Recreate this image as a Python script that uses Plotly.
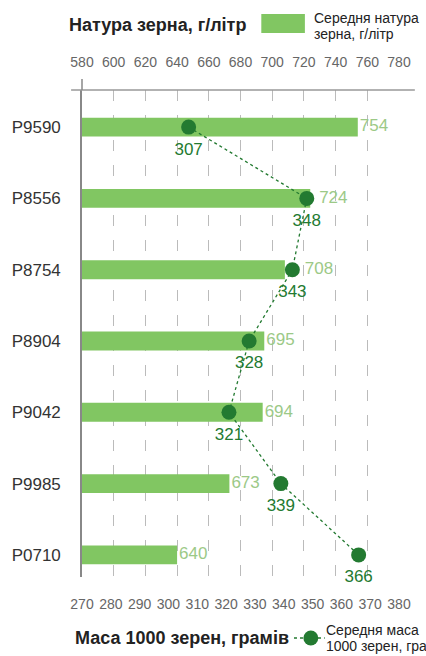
import plotly.graph_objects as go

categories = ["P9590", "P8556", "P8754", "P8904", "P9042", "P9985", "P0710"]
natura = [754, 724, 708, 695, 694, 673, 640]
masa = [307, 348, 343, 328, 321, 339, 366]
top_ticks = list(range(580, 781, 20))
bottom_ticks = list(range(270, 381, 10))

BAR = "#81c662"
BAR_TXT = "#9cc987"
DARK = "#237a31"
W, H = 426, 656
L, R, T, B = 79, 27, 90, 79
PW, PH = W - L - R, H - T - B
TOP_RANGE = [580, 780]
BOT_RANGE = [270, 380]
MARKER = 15

def px(x):
    return (x - L) / PW

def py(y):
    return (H - B - y) / PH

# bar value labels: placed after the bar end, or after the marker when the marker overlaps
top_per_px = (TOP_RANGE[1] - TOP_RANGE[0]) / PW
label_x = []
for v, m in zip(natura, masa):
    m_top = TOP_RANGE[0] + (m - BOT_RANGE[0]) / (BOT_RANGE[1] - BOT_RANGE[0]) * (TOP_RANGE[1] - TOP_RANGE[0])
    m_right = m_top + (MARKER / 2) * top_per_px
    m_left = m_top - (MARKER / 2) * top_per_px
    start = v + 2 * top_per_px
    if m_right > v and m_left < start + 30 * top_per_px:
        start = max(start, m_right + 5 * top_per_px)
    label_x.append(start)

fig = go.Figure()
fig.add_trace(go.Bar(
    y=categories, x=natura, orientation="h",
    marker=dict(color=BAR, line=dict(width=0)), width=0.265,
    xaxis="x", yaxis="y", showlegend=False, hoverinfo="x+y",
))
fig.add_trace(go.Scatter(
    y=categories, x=label_x, mode="text", text=[str(v) for v in natura],
    textposition="middle right", cliponaxis=False,
    textfont=dict(family="Liberation Sans, Arial", size=17, color=BAR_TXT),
    xaxis="x", yaxis="y", showlegend=False, hoverinfo="skip",
))
fig.add_trace(go.Scatter(
    y=categories, x=masa, mode="lines+markers",
    line=dict(color=DARK, width=1.3, dash="dot"),
    marker=dict(color=DARK, size=MARKER),
    xaxis="x2", yaxis="y", showlegend=False,
))
fig.add_trace(go.Scatter(
    y=categories, x=masa, mode="markers+text",
    marker=dict(color="rgba(0,0,0,0)", size=22),
    text=[str(v) for v in masa], textposition="bottom center", cliponaxis=False,
    textfont=dict(family="Liberation Sans, Arial", size=17, color=DARK),
    xaxis="x2", yaxis="y", showlegend=False, hoverinfo="skip",
))

tickfont = dict(family="Liberation Sans, Arial", size=14, color="#666")
fig.update_layout(
    width=W, height=H, margin=dict(l=L, r=R, t=T, b=B, pad=0),
    paper_bgcolor="white", plot_bgcolor="white",
    xaxis=dict(side="top", range=TOP_RANGE, tickvals=top_ticks, ticktext=[str(t) for t in top_ticks],
               showgrid=True, gridcolor="#bbb", gridwidth=1.3, griddash="11px,14px",
               zeroline=False, showline=False, ticks="", tickfont=tickfont,
               ticklabelstandoff=19, fixedrange=True),
    xaxis2=dict(side="bottom", overlaying="x", range=BOT_RANGE, tickvals=bottom_ticks,
                ticktext=[str(t) for t in bottom_ticks], showgrid=False, zeroline=False,
                showline=False, ticks="", tickfont=tickfont, ticklabelstandoff=17),
    yaxis=dict(type="category", categoryorder="array", categoryarray=categories,
               range=[6.31, -0.52], showgrid=False, zeroline=False,
               showline=True, linecolor="#888", linewidth=1.5, ticks="",
               tickfont=dict(family="Liberation Sans, Arial", size=17, color="#333"),
               ticklabelstandoff=16),
)

lab = dict(family="Liberation Sans, Arial", size=14, color="#222")
shapes = [
    dict(type="line", xref="paper", yref="paper", x0=px(68), x1=px(415), y0=1, y1=1,
         line=dict(color="#999", width=1.5)),
    dict(type="line", xref="paper", yref="paper", x0=0, x1=0, y0=1, y1=py(79),
         line=dict(color="#888", width=1.5)),
    dict(type="rect", xref="paper", yref="paper", x0=px(260), x1=px(304), y0=py(14), y1=py(33),
         fillcolor=BAR, line=dict(width=0)),
    dict(type="line", xref="paper", yref="paper", x0=px(293), x1=px(324), y0=py(638), y1=py(638),
         line=dict(color=DARK, width=1.3, dash="dot")),
    dict(type="circle", xref="paper", yref="paper", x0=px(302.5), x1=px(317.5), y0=py(630.5), y1=py(645.5),
         fillcolor=DARK, line=dict(width=0)),
]
annotations = [
    dict(text="<b>Натура зерна, г/літр</b>", xref="paper", yref="paper", x=px(64), y=py(25),
         xanchor="left", yanchor="middle", showarrow=False,
         font=dict(family="Liberation Sans, Arial", size=18, color="#222")),
    dict(text="Середня натура", xref="paper", yref="paper", x=px(312), y=py(18),
         xanchor="left", yanchor="middle", showarrow=False, font=lab, borderpad=0),
    dict(text="зерна, г/літр", xref="paper", yref="paper", x=px(312), y=py(34),
         xanchor="left", yanchor="middle", showarrow=False, font=lab, borderpad=0),
    dict(text="<b>Маса 1000 зерен, грамів</b>", xref="paper", yref="paper", x=px(70), y=py(638),
         xanchor="left", yanchor="middle", showarrow=False,
         font=dict(family="Liberation Sans, Arial", size=18, color="#222")),
    dict(text="Середня маса", xref="paper", yref="paper", x=px(324), y=py(630),
         xanchor="left", yanchor="middle", showarrow=False, font=lab, borderpad=0),
    dict(text="1000 зерен, грамів", xref="paper", yref="paper", x=px(324), y=py(646),
         xanchor="left", yanchor="middle", showarrow=False, font=lab, borderpad=0),
]
fig.update_layout(shapes=shapes, annotations=annotations)
fig.write_html("out.html", config={"displayModeBar": False},
               post_script="document.body.style.margin='0';document.body.style.overflow='hidden';")
